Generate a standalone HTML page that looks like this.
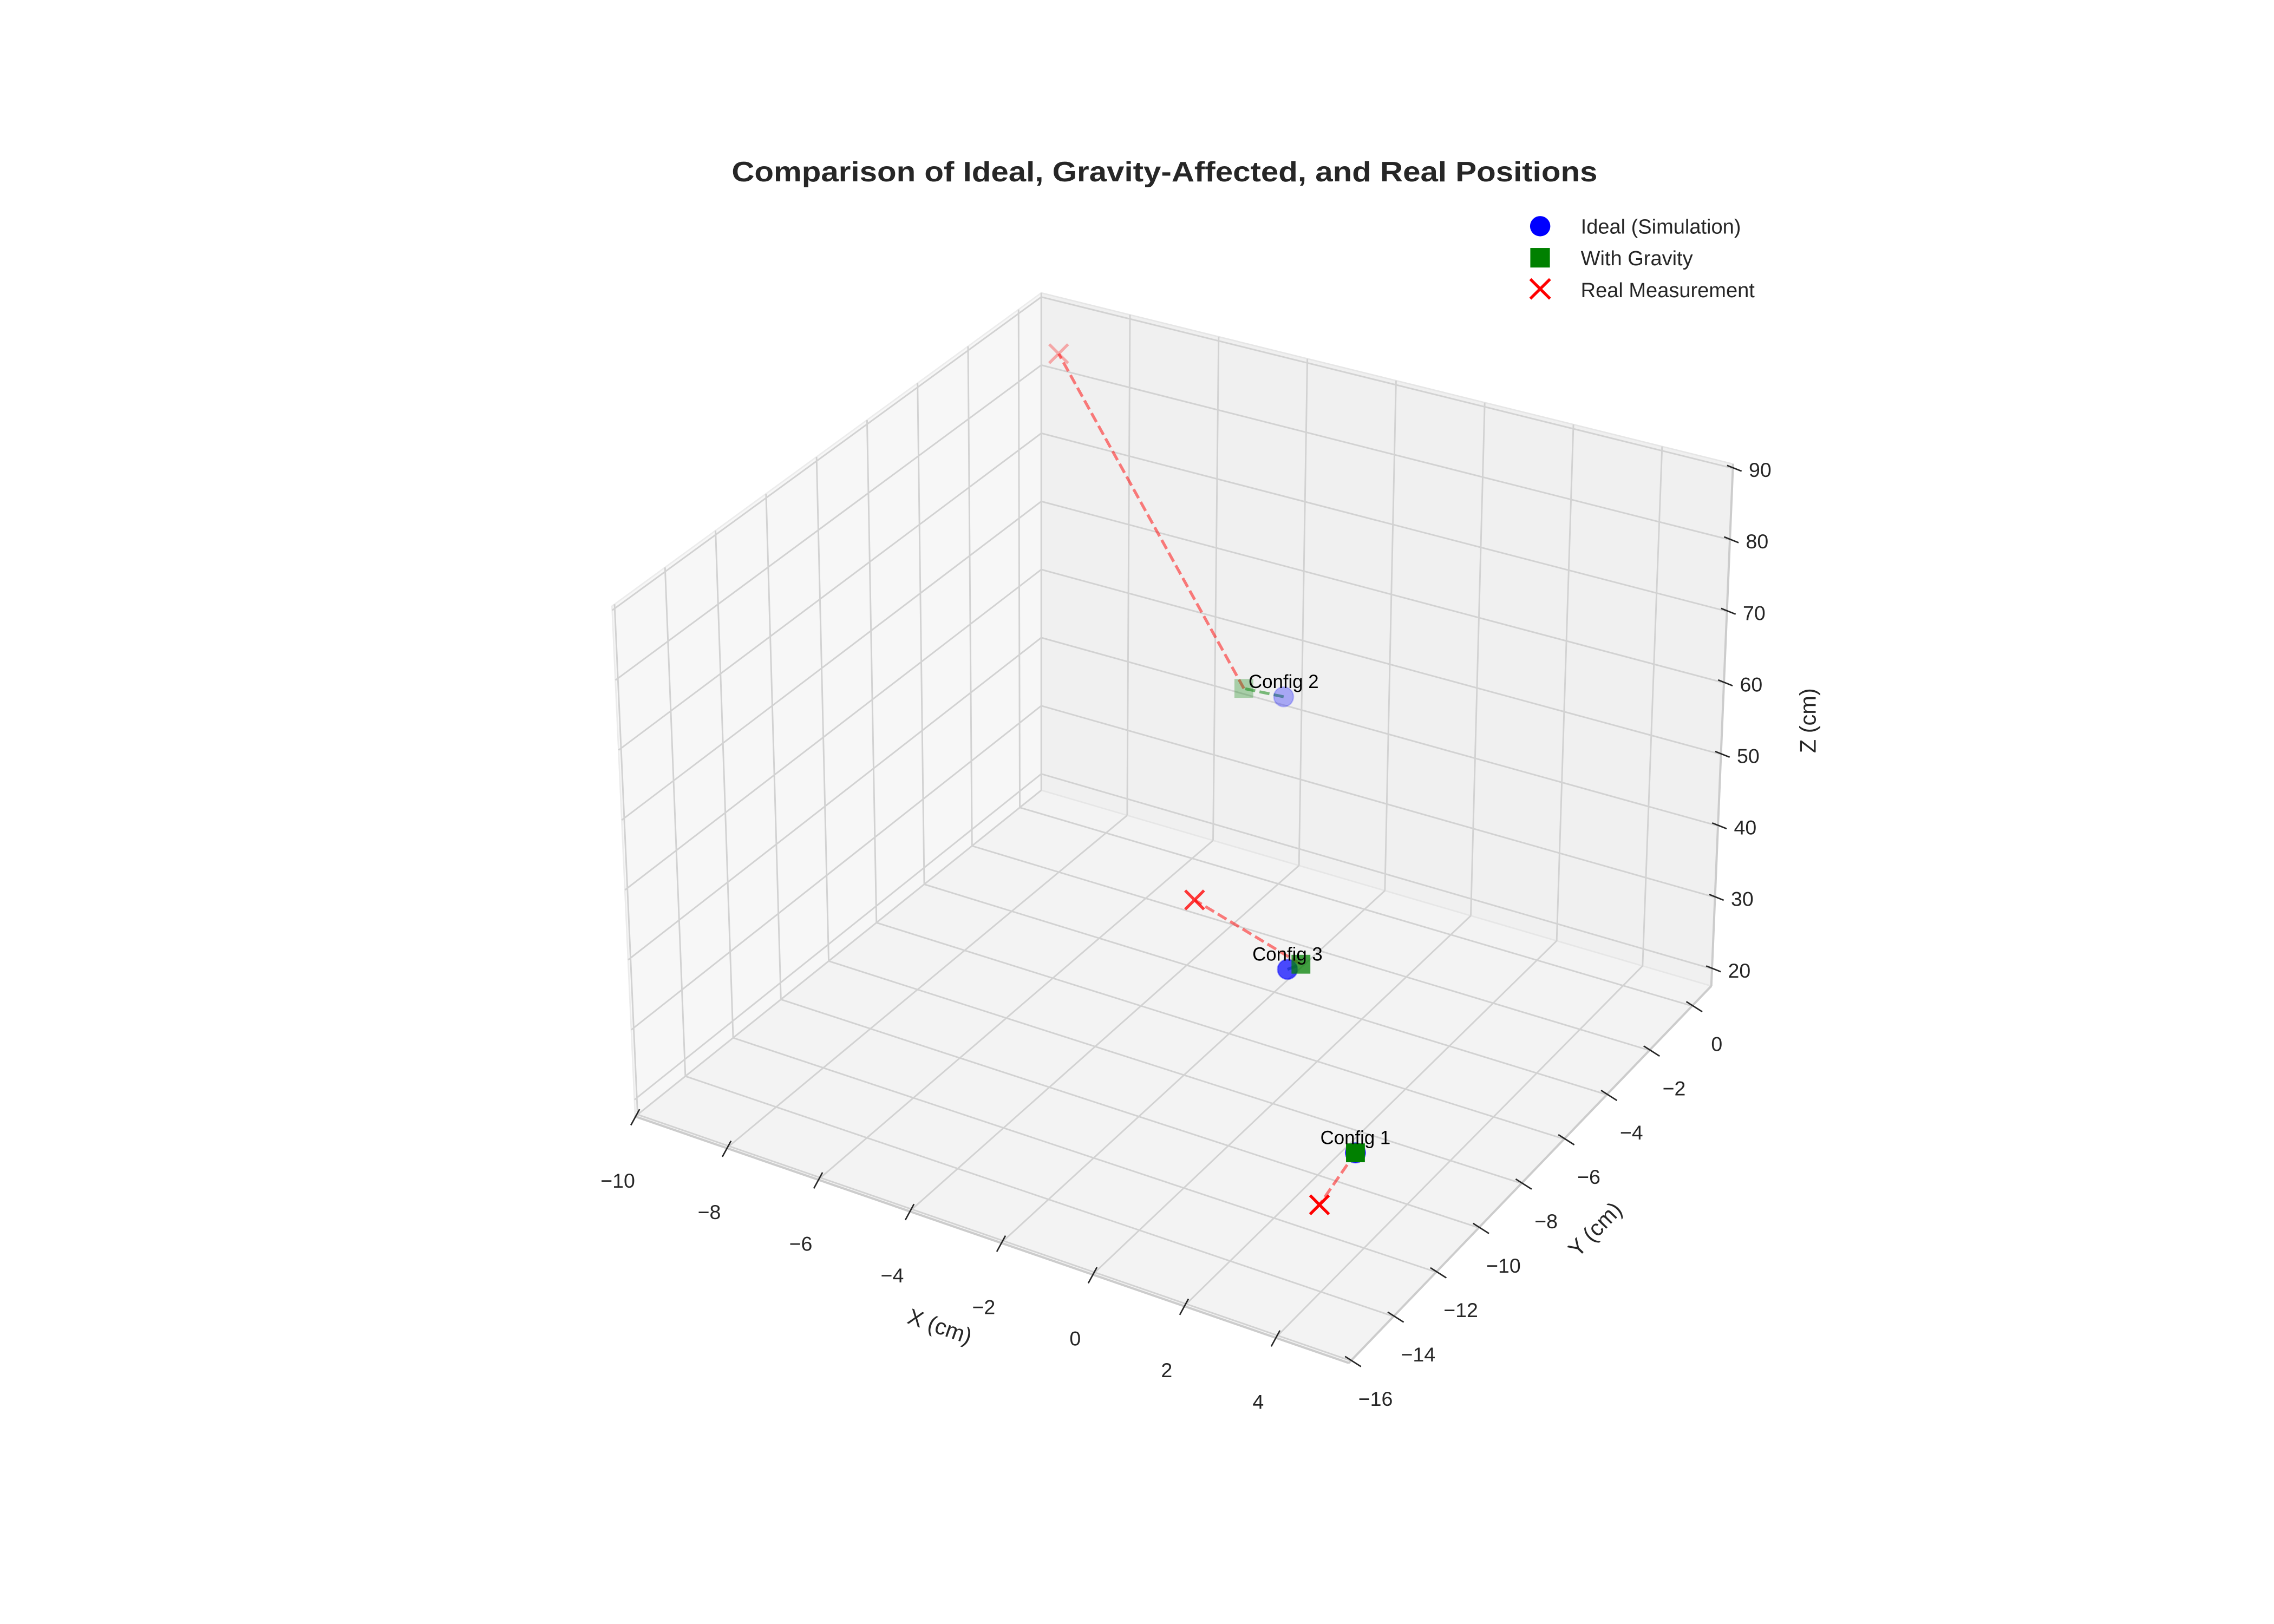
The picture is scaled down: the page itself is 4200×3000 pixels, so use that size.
<!DOCTYPE html>
<html><head><meta charset="utf-8"><style>
html,body{margin:0;padding:0;background:#fff;}
svg{display:block;font-family:"Liberation Sans",Arial,sans-serif;}
</style></head><body>
<svg id="chart" width="4200" height="3000" viewBox="0 0 1568 1120" xmlns="http://www.w3.org/2000/svg">
<rect width="1568" height="1120" fill="#fff"/>
<text x="803" y="125" text-anchor="middle" font-size="19.5" font-weight="bold" fill="#262626" textLength="597" lengthAdjust="spacingAndGlyphs">Comparison of Ideal, Gravity-Affected, and Real Positions</text>
<g id="panes"></g><g id="grid"></g><g id="axes"></g><g id="lines"></g><g id="marks"></g><g id="labels"></g>
<g>
 <circle cx="1062" cy="156" r="7" fill="#0000ff"/>
 <text x="1090" y="161" font-size="14.2" fill="#262626">Ideal (Simulation)</text>
 <rect x="1055.2" y="171" width="13.5" height="13.5" fill="#008000"/>
 <text x="1090" y="183" font-size="14.2" fill="#262626">With Gravity</text>
 <path d="M1055.2 192.5 L1068.8 206 M1068.8 192.5 L1055.2 206" stroke="#ff0000" stroke-width="2"/>
 <text x="1090" y="205" font-size="14.2" fill="#262626">Real Measurement</text>
</g>
</svg>
<script>
const configs = ["Config 1","Config 2","Config 3"];
const idealX = [3.3, -2.9, -0.7];
const idealY = [-11, -2, -6];
const idealZ = [26.3, 52.2, 29.2];
const gravX = [3.3, -3.8, -0.4];
const gravY = [-11, -2, -6];
const gravZ = [26.3, 51.8, 30.5];
const realX = [3.0, -9.1, -2.8];
const realY = [-12, 0, -6];
const realZ = [21.5, 85.6, 35];
const xTicks = [-10,-8,-6,-4,-2,0,2,4];
const yTicks = [-16,-14,-12,-10,-8,-6,-4,-2,0];
const zTicks = [20,30,40,50,60,70,80,90];

const X0=-10, X1=5.6, Y0=-16.1, Y1=0.9, Z0=17.6, Z1=90.6;
const C = {L:[438,770,352,-16], F:[930,940,370,8], R:[1180,680,360,15], B:[718,545,343,0]};
function bil(u,v,i){return (1-u)*(1-v)*C.L[i]+u*(1-v)*C.F[i]+u*v*C.R[i]+(1-u)*v*C.B[i];}
function proj(x,y,z){
  const u=(x-X0)/(X1-X0), v=(y-Y0)/(Y1-Y0), w=(z-Z0)/(Z1-Z0);
  return [bil(u,v,0)+w*bil(u,v,3), bil(u,v,1)-w*bil(u,v,2)];
}
const NS="http://www.w3.org/2000/svg";
function mk(parent,tag,attrs){const e=document.createElementNS(NS,tag);for(const k in attrs)e.setAttribute(k,attrs[k]);document.getElementById(parent).appendChild(e);return e;}
function pts(a){return a.map(p=>p[0].toFixed(2)+","+p[1].toFixed(2)).join(" ");}

let e;
e=mk("panes","polygon",{points:pts([proj(X0,Y0,Z0),proj(X0,Y1,Z0),proj(X0,Y1,Z1),proj(X0,Y0,Z1)]),fill:"#f7f7f7",stroke:"#ececec","stroke-width":1});


e=mk("panes","polygon",{points:pts([proj(X0,Y1,Z0),proj(X1,Y1,Z0),proj(X1,Y1,Z1),proj(X0,Y1,Z1)]),fill:"#f0f0f0",stroke:"#e6e6e6","stroke-width":1});


e=mk("panes","polygon",{points:pts([proj(X0,Y0,Z0),proj(X1,Y0,Z0),proj(X1,Y1,Z0),proj(X0,Y1,Z0)]),fill:"#f3f3f3",stroke:"#e6e6e6","stroke-width":1});



function gl(a,b,name){const l=mk("grid","line",{x1:a[0],y1:a[1],x2:b[0],y2:b[1],stroke:"#d2d2d2","stroke-width":1.1});

}
xTicks.forEach(x=>{gl(proj(x,Y0,Z0),proj(x,Y1,Z0),'grid-x-floor');gl(proj(x,Y1,Z0),proj(x,Y1,Z1),'grid-x-back');});
yTicks.forEach(y=>{gl(proj(X0,y,Z0),proj(X1,y,Z0),'grid-y-floor');gl(proj(X0,y,Z0),proj(X0,y,Z1),'grid-y-left');});
zTicks.forEach(z=>{gl(proj(X0,Y0,z),proj(X0,Y1,z),'grid-z-left');gl(proj(X0,Y1,z),proj(X1,Y1,z),'grid-z-back');});

function al(a,b,name,col,w){const l=mk("axes","line",{x1:a[0],y1:a[1],x2:b[0],y2:b[1],stroke:col,"stroke-width":w});

}
al(proj(X0,Y0,Z0),proj(X1,Y0,Z0),'x-axis-line','#cccccc',1.5);
al(proj(X1,Y0,Z0),proj(X1,Y1,Z0),'y-axis-line','#cccccc',1.5);
al(proj(X1,Y1,Z0),proj(X1,Y1,Z1),'z-axis-line','#cccccc',1.5);
function tl(p,txt,dx,dy,name,anchor){const t=mk("axes","text",{x:p[0]+dx,y:p[1]+dy,"font-size":14,fill:"#262626","text-anchor":anchor});t.textContent=txt;

}
function fmt(v){return v<0?"\u2212"+(-v):String(v);}
xTicks.forEach(x=>{const p=proj(x,Y0,Z0);al([p[0]+3,p[1]-5],[p[0]-3,p[1]+6],'x-tick','#262626',1);tl(p,fmt(x),-12,49,'x-tick-label','middle');});
yTicks.forEach(y=>{const p=proj(X1,y,Z0);al([p[0]-4,p[1]-3],[p[0]+7,p[1]+4],'y-tick','#262626',1);tl(p,fmt(y),17,31,'y-tick-label','middle');});
zTicks.forEach(z=>{const p=proj(X1,Y1,z);al([p[0]-4,p[1]-2],[p[0]+6,p[1]+2],'z-tick','#262626',1);tl(p,fmt(z),11,6,'z-tick-label','start');});
let t=mk("axes","text",{x:648,y:920,"font-size":15.5,fill:"#262626","text-anchor":"middle",transform:"rotate(19 648 915)"});t.textContent="X (cm)";


t=mk("axes","text",{x:1100,y:853,"font-size":15.5,fill:"#262626","text-anchor":"middle",transform:"rotate(-46 1100 848)"});t.textContent="Y (cm)";


t=mk("axes","text",{x:1252,y:497,"font-size":15.5,fill:"#262626","text-anchor":"middle",transform:"rotate(-90 1252 497)"});t.textContent="Z (cm)";



function depth(x,y){const u=(x-X0)/(X1-X0), v=(y-Y0)/(Y1-Y0);return v*0.6+(1-u)*0.4;}
function alphas(xs,ys){const d=xs.map((x,i)=>depth(x,ys[i]));const mn=Math.min(...d),mx=Math.max(...d);return d.map(q=>mx===mn?1:1-0.7*Math.pow((q-mn)/(mx-mn),1.6));}
const aI=alphas(idealX,idealY), aG=alphas(gravX,gravY), aR=alphas(realX,realY);

configs.forEach((c,i)=>{
  const pi=proj(idealX[i],idealY[i],idealZ[i]), pg=proj(gravX[i],gravY[i],gravZ[i]), pr=proj(realX[i],realY[i],realZ[i]);
  let l=mk("lines","line",{x1:pi[0],y1:pi[1],x2:pg[0],y2:pg[1],stroke:"#008000","stroke-opacity":0.5,"stroke-width":2,"stroke-dasharray":"7,3"});
  
  
  l=mk("lines","line",{x1:pg[0],y1:pg[1],x2:pr[0],y2:pr[1],stroke:"#ff0000","stroke-opacity":0.5,"stroke-width":2,"stroke-dasharray":"7,3"});
  
  
  const ci=mk("marks","circle",{cx:pi[0],cy:pi[1],r:6.8,fill:"#0000ff","fill-opacity":aI[i],stroke:"#0000ff","stroke-opacity":aI[i]*0.6});
  
  
  const sq=mk("marks","rect",{x:pg[0]-6.5,y:pg[1]-6.5,width:13,height:13,fill:"#008000","fill-opacity":aG[i]});
  
  
  const xm=mk("marks","path",{d:`M${pr[0]-6.5} ${pr[1]-6.5} L${pr[0]+6.5} ${pr[1]+6.5} M${pr[0]+6.5} ${pr[1]-6.5} L${pr[0]-6.5} ${pr[1]+6.5}`,stroke:"#ff0000","stroke-width":2,"stroke-opacity":aR[i]});
  
  
  const lb=mk("labels","text",{x:pi[0],y:pi[1]-6,"font-size":13,fill:"#000","text-anchor":"middle"});
  lb.textContent=c;
  
  
});
</script>
</body></html>
